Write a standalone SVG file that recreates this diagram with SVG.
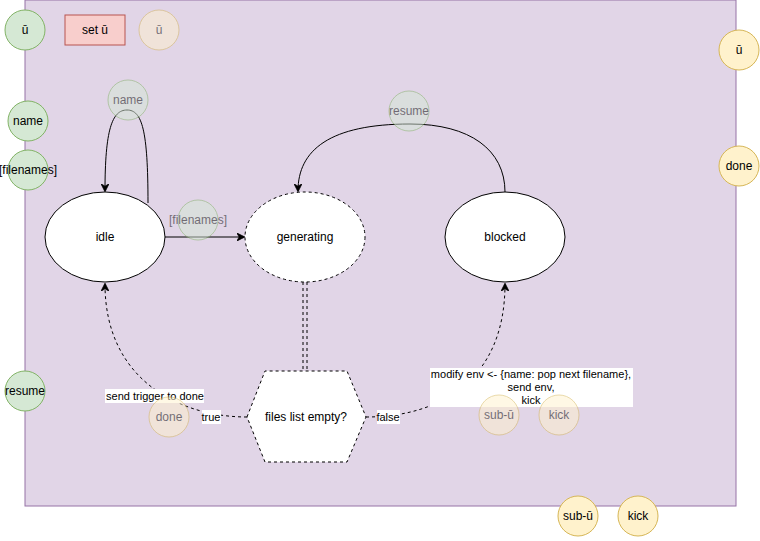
<svg xmlns="http://www.w3.org/2000/svg" width="760" height="541" viewBox="0 0 760 541">
<style>
text{font-family:"Liberation Sans",Arial,sans-serif;font-size:12px;text-anchor:middle;dominant-baseline:central;fill:#000}
.lbl{font-size:11px}
.g{fill:#d5e8d4;stroke:#82b366}
.y{fill:#fff2cc;stroke:#d6b656}
.st{fill:#fff;stroke:#000;stroke-width:1}
.fade{opacity:0.5}
.e{fill:none;stroke:#000;stroke-width:1}
.d{stroke-dasharray:3 3}
.bg{fill:#fff}
</style>
<defs>
<marker id="arr" viewBox="0 0 10 10" refX="9" refY="5" markerWidth="8" markerHeight="8" orient="auto" markerUnits="userSpaceOnUse">
<path d="M0,0 L10,5 L0,10 L3,5 Z" fill="#000" stroke="#000" stroke-width="1"/>
</marker>
</defs>
<rect id="container" x="25" y="0" width="711" height="506" fill="#e1d5e7" stroke="#9673a6"/>

<g id="in-u"><circle class="g" cx="25" cy="30" r="20"/><text x="25" y="30">ū</text></g>
<g id="in-name"><circle class="g" cx="28" cy="121" r="20"/><text x="28" y="121">name</text></g>
<g id="in-filenames"><circle class="g" cx="28" cy="170" r="20"/><text x="28" y="170">[filenames]</text></g>
<g id="in-resume"><circle class="g" cx="25" cy="391" r="20"/><text x="25" y="391">resume</text></g>
<g id="set-u"><rect x="65" y="15" width="60" height="30" fill="#f8cecc" stroke="#b85450"/><text x="95" y="30">set ū</text></g>
<g id="f-u" class="fade"><circle class="y" cx="159" cy="30" r="20"/><text x="159" y="30">ū</text></g>
<g id="out-u"><circle class="y" cx="739" cy="50" r="20"/><text x="739" y="50">ū</text></g>
<g id="out-done"><circle class="y" cx="739" cy="166" r="20"/><text x="739" y="166">done</text></g>
<g id="out-subu"><circle class="y" cx="578" cy="516" r="20"/><text x="578" y="516">sub-ū</text></g>
<g id="out-kick"><circle class="y" cx="638" cy="516" r="20"/><text x="638" y="516">kick</text></g>

<g id="idle"><ellipse class="st" cx="105" cy="237" rx="60" ry="45"/><text x="105" y="237">idle</text></g>
<g id="generating"><ellipse class="st d" cx="305" cy="237" rx="60" ry="45"/><text x="305" y="237">generating</text></g>
<g id="blocked"><ellipse class="st" cx="505" cy="237" rx="60" ry="45"/><text x="505" y="237">blocked</text></g>
<g id="files-empty"><polygon class="st d" points="247,417 265,371 347,371 366,417 347,462 265,462"/><text x="306" y="417">files list empty?</text></g>

<g id="connectors">
<path class="e" d="M148,203 C148,130 142,110 127,110 C112,110 105,130 105,191" marker-end="url(#arr)"/>
<path class="e" d="M165,237 L244,237" marker-end="url(#arr)"/>
<path class="e" d="M505,192 C505,150 470,124 410,124 C330,124 298,150 298,191" marker-end="url(#arr)"/>
<path class="e d" d="M303,282 L303,371 M307,282 L307,371"/>
<path class="e d" d="M247,417 C180,417 105,380 105,284" marker-end="url(#arr)"/>
<path class="e d" d="M366,417 C440,417 505,380 505,284" marker-end="url(#arr)"/>
<rect class="bg" x="105" y="389" width="99" height="14"/>
<text class="lbl" x="155" y="396">send trigger to done</text>
<rect class="bg" x="202" y="410" width="19" height="14"/>
<text class="lbl" x="211" y="417">true</text>
<rect class="bg" x="377" y="410" width="23" height="14"/>
<text class="lbl" x="388" y="417">false</text>
<rect class="bg" x="430" y="368" width="203" height="39"/>
<text class="lbl" x="531" y="374">modify env &lt;- {name: pop next filename},</text>
<text class="lbl" x="531" y="387">send env,</text>
<text class="lbl" x="531" y="400">kick</text>
</g>

<g id="f-name" class="fade"><circle class="g" cx="128" cy="100" r="20"/><text x="128" y="100">name</text></g>
<g id="f-filenames" class="fade"><circle class="g" cx="198" cy="220" r="20"/><text x="198" y="220">[filenames]</text></g>
<g id="f-resume" class="fade"><circle class="g" cx="409" cy="111" r="20"/><text x="409" y="111">resume</text></g>
<g id="f-done" class="fade"><circle class="y" cx="169" cy="417" r="20"/><text x="169" y="417">done</text></g>
<g id="f-subu" class="fade"><circle class="y" cx="499" cy="415" r="20"/><text x="499" y="415">sub-ū</text></g>
<g id="f-kick" class="fade"><circle class="y" cx="559" cy="415" r="20"/><text x="559" y="415">kick</text></g>
</svg>
